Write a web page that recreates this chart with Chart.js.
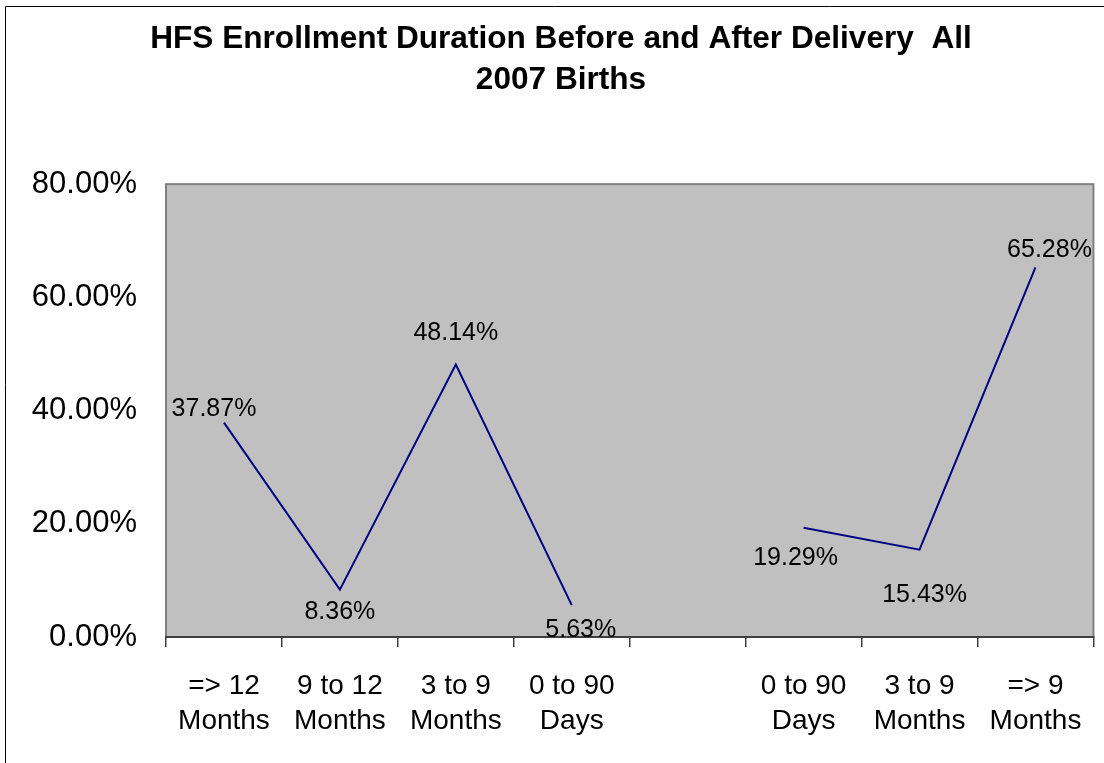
<!DOCTYPE html>
<html>
<head>
<meta charset="utf-8">
<script src="https://cdn.jsdelivr.net/npm/chart.js@4"></script>
<style>
  html, body { margin: 0; padding: 0; background: #fff; }
  #wrap { width: 1104px; height: 763px; position: relative; }
</style>
</head>
<body>
<div id="wrap"><canvas id="chart" width="1104" height="763"></canvas></div>
<script>
// Enrollment duration before / after delivery, all 2007 births.
// The empty slot in the middle separates "before" from "after".

const TITLE = ["HFS Enrollment Duration Before and After Delivery  All", "2007 Births"];

const CATEGORIES = [
  ["=> 12", "Months"],
  ["9 to 12", "Months"],
  ["3 to 9", "Months"],
  ["0 to 90", "Days"],
  "",
  ["0 to 90", "Days"],
  ["3 to 9", "Months"],
  ["=> 9", "Months"],
];

const SHARE = [37.87, 8.36, 48.14, 5.63, null, 19.29, 15.43, 65.28];

const Y_MIN = 0;
const Y_MAX = 80;
const Y_STEP = 20;

const FONT = "'Liberation Sans', Arial, sans-serif";
const LINE_CLR = "#000080";
const PLOT_BG = "#C0C0C0";

// ─── Plugins ─────────────────────────────────────────────────────────────────

// White page, outer frame and the grey plot area
const backdrop = {
  id: "backdrop",
  beforeDraw(chart) {
    const { ctx, chartArea: a, width, height } = chart;
    ctx.save();
    ctx.fillStyle = "#fff";
    ctx.fillRect(0, 0, width, height);
    ctx.strokeStyle = "#000";
    ctx.lineWidth = 1;
    ctx.beginPath();
    ctx.moveTo(5.5, height);
    ctx.lineTo(5.5, 6.5);
    ctx.lineTo(width, 6.5);
    ctx.stroke();
    ctx.fillStyle = PLOT_BG;
    ctx.fillRect(a.left, a.top, a.right - a.left, a.bottom - a.top);
    ctx.strokeStyle = "#808080";
    ctx.lineWidth = 2;
    ctx.strokeRect(a.left, a.top, a.right - a.left, a.bottom - a.top);
    ctx.restore();
  },
};

// Percent labels next to each point, nudged the way the original had them
const pointLabels = {
  id: "pointLabels",
  afterDatasetsDraw(chart, args, opts) {
    const { ctx, chartArea: a } = chart;
    const meta = chart.getDatasetMeta(0);
    ctx.save();
    ctx.beginPath();
    ctx.rect(a.left, a.top, a.right - a.left, a.bottom - a.top);
    ctx.clip();
    ctx.font = `25px ${FONT}`;
    ctx.fillStyle = "#000";
    ctx.textAlign = "center";
    ctx.textBaseline = "middle";
    meta.data.forEach((pt, i) => {
      const v = SHARE[i];
      if (v == null) return;
      const [dx, dy] = opts.offsets[i] || [0, 0];
      ctx.fillText(`${v.toFixed(2)}%`, pt.x + dx, pt.y + dy);
    });
    ctx.restore();
  },
};

// ─── Chart ───────────────────────────────────────────────────────────────────

new Chart(document.getElementById("chart"), {
  type: "line",
  data: {
    labels: CATEGORIES,
    datasets: [
      {
        data: SHARE,
        borderColor: LINE_CLR,
        borderWidth: 2,
        pointRadius: 0,
        tension: 0,
        spanGaps: false,
        fill: false,
      },
    ],
  },
  options: {
    responsive: false,
    animation: false,
    layout: { padding: { left: 28, right: 10, top: 0, bottom: 0 } },
    plugins: {
      legend: { display: false },
      tooltip: { enabled: false },
      title: {
        display: true,
        text: TITLE,
        color: "#000",
        font: { family: FONT, size: 31.6, weight: "bold", lineHeight: 1.3 },
        padding: { top: 19, bottom: 83 },
      },
      pointLabels: {
        offsets: [[-10, -14], [0, 22], [0, -31], [9, 25], [0, 0], [-8, 30], [5, 45], [14, -17]],
      },
    },
    scales: {
      x: {
        offset: true,
        afterFit: (s) => { s.height = 126; },
        grid: {
          offset: true,
          drawOnChartArea: false,
          drawTicks: true,
          tickLength: 10,
          color: "#404040",
          lineWidth: 1.5,
        },
        border: { color: "#404040", width: 2 },
        ticks: {
          color: "#000",
          padding: 22,
          maxRotation: 0,
          autoSkip: false,
          font: { family: FONT, size: 28, lineHeight: 1.24 },
        },
      },
      y: {
        min: Y_MIN,
        max: Y_MAX,
        afterFit: (s) => { s.width = 138; },
        grid: { display: false, drawTicks: false },
        border: { display: false },
        ticks: {
          stepSize: Y_STEP,
          padding: 29,
          color: "#000",
          font: { family: FONT, size: 31 },
          callback: (v) => `${Number(v).toFixed(2)}%`,
        },
      },
    },
  },
  plugins: [backdrop, pointLabels],
});
</script>
</body>
</html>
